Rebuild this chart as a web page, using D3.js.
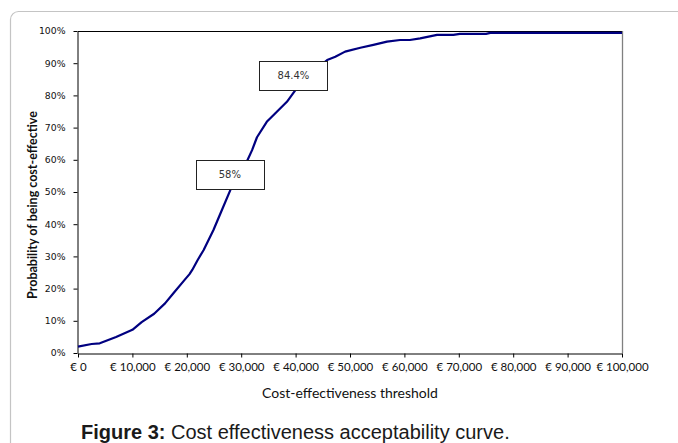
<!DOCTYPE html>
<html>
<head>
<meta charset="utf-8">
<script src="https://cdn.jsdelivr.net/npm/d3@7"></script>
<style>
  html, body { margin: 0; padding: 0; background: #fff; }
  svg { display: block; }
</style>
</head>
<body>
<svg id="chart" width="678" height="443"></svg>
<script>
// Data (threshold in €, probability in %)
const thresholds = [0, 2500, 4000, 7000, 10000, 11700, 14000, 16000, 17500, 19600, 20500, 21000, 22000, 23100, 24900, 26200, 28000, 30000, 31100, 32000, 32900, 34700, 36600, 38400, 40000, 42000, 44000, 45800, 47300, 49100, 51900, 54300, 56800, 59200, 61000, 62900, 66000, 69000, 70200, 75000, 75800, 100000];
const probabilities = [2.0, 2.8, 3.0, 5.0, 7.2, 9.6, 12.2, 15.4, 18.5, 22.7, 24.5, 25.8, 28.9, 32.0, 38.2, 43.4, 50.6, 56.5, 59.7, 63.0, 67.0, 71.8, 75.0, 78.0, 81.7, 85.2, 88.5, 91.0, 92.0, 93.6, 94.8, 95.7, 96.7, 97.2, 97.2, 97.7, 98.8, 98.8, 99.1, 99.1, 99.4, 99.4];
const xTicks = [0, 10000, 20000, 30000, 40000, 50000, 60000, 70000, 80000, 90000, 100000];
const yTicks = [0, 10, 20, 30, 40, 50, 60, 70, 80, 90, 100];
const annotationLabels = ["58%", "84.4%"];
const annotationX = [27900, 39600];
const annotationY = [55.3, 86.2];

const svg = d3.select("#chart");

// card border
svg.append("rect")
  .attr("x", 10.5).attr("y", 11.5)
  .attr("width", 720).attr("height", 520)
  .attr("rx", 8).attr("ry", 8)
  .attr("fill", "none")
  .attr("stroke", "#c4c4c4")
  .attr("stroke-width", 1.2);

const pLeft = 78, pRight = 622, pTop = 31, pBottom = 353;
const x = d3.scaleLinear().domain([0, 100000]).range([pLeft, pRight]);
const y = d3.scaleLinear().domain([0, 100]).range([pBottom, pTop]);

// plot frame top and right
svg.append("line").attr("x1", pLeft).attr("x2", pRight).attr("y1", pTop + 0.5).attr("y2", pTop + 0.5)
  .attr("stroke", "#000").attr("stroke-width", 1);
svg.append("line").attr("x1", pRight + 0.5).attr("x2", pRight + 0.5).attr("y1", pTop).attr("y2", pBottom)
  .attr("stroke", "#808080").attr("stroke-width", 1.3);

const fmtEuro = d => "€ " + d3.format(",")(d);

// x axis
const xAxis = svg.append("g")
  .attr("transform", `translate(0,${pBottom + 0.5})`)
  .call(d3.axisBottom(x).tickValues(xTicks).tickFormat(fmtEuro).tickSizeInner(4).tickSizeOuter(0).tickPadding(5));
xAxis.select(".domain").attr("stroke", "#000");
xAxis.selectAll(".tick line").attr("stroke", "#000");
xAxis.selectAll("text")
  .attr("font-family", "Lato, 'Open Sans', sans-serif")
  .attr("font-size", "11.5px")
  .attr("fill", "#111");

// y axis
const yAxis = svg.append("g")
  .attr("transform", `translate(${pLeft - 0.5},0)`)
  .call(d3.axisLeft(y).tickValues(yTicks).tickFormat(d => d + "%").tickSizeInner(4).tickSizeOuter(0).tickPadding(8));
yAxis.select(".domain").attr("stroke", "#000");
yAxis.selectAll(".tick line").attr("stroke", "#000");
yAxis.selectAll("text")
  .attr("font-family", "'DejaVu Sans', sans-serif")
  .attr("font-size", "9.3px")
  .attr("fill", "#111");

// curve
const line = d3.line()
  .x((d, i) => x(thresholds[i]))
  .y((d, i) => y(probabilities[i]));
svg.append("path")
  .datum(probabilities)
  .attr("d", line)
  .attr("fill", "none")
  .attr("stroke", "#000080")
  .attr("stroke-width", 2.2)
  .attr("stroke-linejoin", "round");

// annotations
const bw = 68, bh = 29;
annotationLabels.forEach((lab, i) => {
  const cx = x(annotationX[i]), cy = y(annotationY[i]);
  svg.append("rect")
    .attr("x", Math.round(cx - bw / 2) + 0.5).attr("y", Math.round(cy - bh / 2) + 0.5)
    .attr("width", bw).attr("height", bh)
    .attr("fill", "#fff").attr("stroke", "#222").attr("stroke-width", 1);
  svg.append("text")
    .attr("x", cx).attr("y", cy + 3.5)
    .attr("text-anchor", "middle")
    .attr("font-family", "'DejaVu Sans', sans-serif")
    .attr("font-size", "10px")
    .attr("fill", "#333")
    .text(lab);
});

// axis titles
svg.append("text")
  .attr("transform", `translate(37,205) rotate(-90)`)
  .attr("text-anchor", "middle")
  .attr("font-family", "Lato, sans-serif")
  .attr("font-weight", "bold")
  .attr("font-size", "12.5px")
  .attr("fill", "#111")
  .text("Probability of being cost-effective");

svg.append("text")
  .attr("x", 350).attr("y", 398)
  .attr("text-anchor", "middle")
  .attr("font-family", "Lato, sans-serif")
  .attr("font-size", "14px")
  .attr("fill", "#111")
  .text("Cost-effectiveness threshold");

// caption
const cap = svg.append("text")
  .attr("x", 81).attr("y", 439)
  .attr("font-family", "'Liberation Sans', Arial, sans-serif")
  .attr("font-size", "20px")
  .attr("fill", "#1a1a1a");
cap.append("tspan").attr("font-weight", "bold").text("Figure 3:");
cap.append("tspan").text(" Cost effectiveness acceptability curve.");
</script>
</body>
</html>
